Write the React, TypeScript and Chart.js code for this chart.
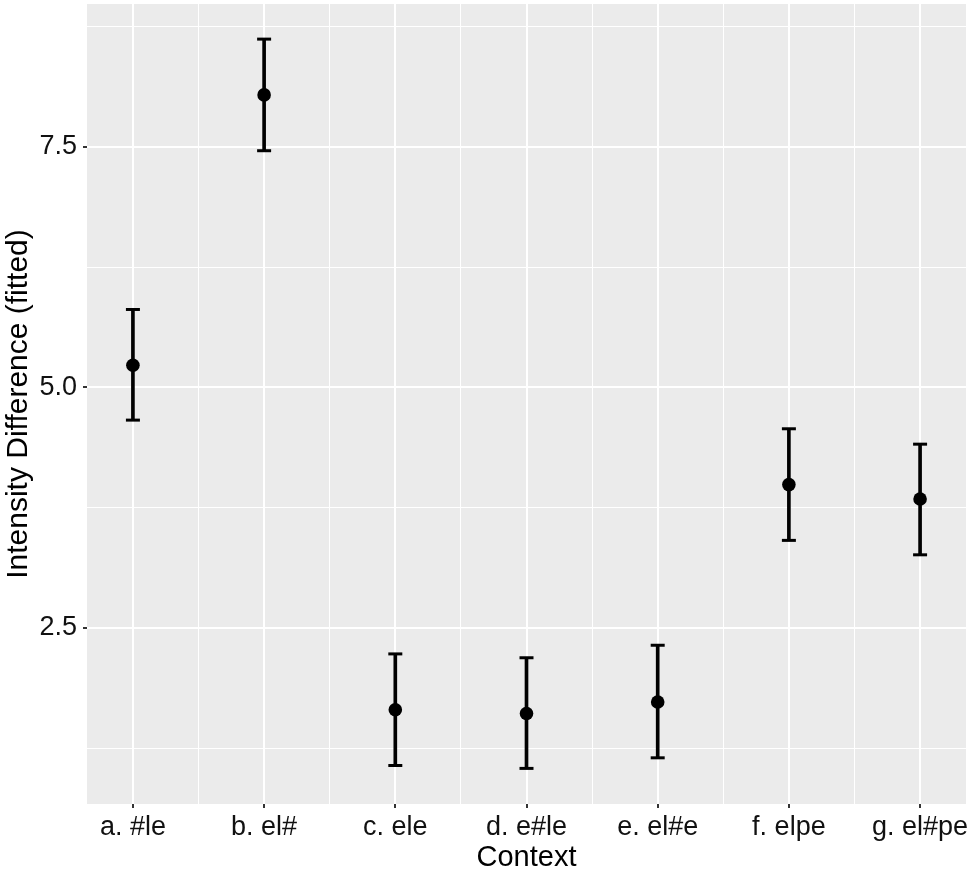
import React, { useEffect, useRef } from 'react';
import Chart from 'chart.js/auto';

// === Data ===
const CONTEXTS = ['a. #le', 'b. el#', 'c. ele', 'd. e#le', 'e. el#e', 'f. elpe', 'g. el#pe'];
const FITTED = [5.23, 8.04, 1.65, 1.61, 1.73, 3.99, 3.84];
const LOWER = [4.66, 7.46, 1.07, 1.04, 1.15, 3.41, 3.26];
const UPPER = [5.81, 8.62, 2.23, 2.19, 2.32, 4.57, 4.41];
const Y_TICKS = [2.5, 5.0, 7.5];
const Y_MINOR = [1.25, 3.75, 6.25, 8.75];

const FONT = "'Liberation Sans', Arial, Helvetica, sans-serif";
const PANEL_BG = '#EBEBEB';

// grey panel behind the plot, like ggplot's theme_gray
const panelBackground = {
  id: 'panelBackground',
  beforeDraw(chart: any) {
    const { ctx, chartArea } = chart;
    if (!chartArea) return;
    ctx.save();
    ctx.fillStyle = PANEL_BG;
    ctx.fillRect(chartArea.left, chartArea.top, chartArea.right - chartArea.left, chartArea.bottom - chartArea.top);
    ctx.restore();
  },
};

const isMajor = (v: number, majors: number[]) => majors.some(m => Math.abs(m - v) < 1e-9);

const App: React.FC = () => {
  const canvasRef = useRef<HTMLCanvasElement>(null);

  useEffect(() => {
    document.body.style.margin = '0';
    if (!canvasRef.current) return;

    const xMajor = CONTEXTS.map((_, i) => i);
    const xTicks = CONTEXTS.flatMap((_, i) => (i === 0 ? [i] : [i - 0.5, i]));
    const yTicks = [...Y_TICKS, ...Y_MINOR].sort((a, b) => a - b);

    const chart = new Chart(canvasRef.current, {
      type: 'scatter',
      data: {
        datasets: [
          {
            type: 'bar',
            label: 'interval',
            data: CONTEXTS.map((_, i) => ({ x: i, y: [LOWER[i], UPPER[i]] })) as any,
            backgroundColor: '#000',
            borderWidth: 0,
            barThickness: 3,
            order: 3,
          },
          {
            type: 'scatter',
            label: 'caps',
            data: CONTEXTS.flatMap((_, i) => [{ x: i, y: LOWER[i] }, { x: i, y: UPPER[i] }]),
            pointStyle: 'line',
            pointRadius: 7,
            borderColor: '#000',
            borderWidth: 3,
            order: 2,
          },
          {
            type: 'scatter',
            label: 'fitted',
            data: CONTEXTS.map((_, i) => ({ x: i, y: FITTED[i] })),
            pointRadius: 6.8,
            backgroundColor: '#000',
            borderWidth: 0,
            order: 1,
          },
        ],
      },
      options: {
        animation: false,
        responsive: true,
        maintainAspectRatio: false,
        layout: { autoPadding: false, padding: { top: 4, right: 8, left: 0, bottom: 0 } },
        plugins: {
          legend: { display: false },
          tooltip: { enabled: false },
        },
        scales: {
          x: {
            type: 'linear',
            min: -0.35,
            max: CONTEXTS.length - 1 + 0.35,
            offset: false,
            afterBuildTicks: (scale: any) => {
              scale.ticks = xTicks.map(value => ({ value }));
            },
            afterFit: (scale: any) => {
              scale.height = 68;
              scale.paddingLeft = 0;
              scale.paddingRight = 0;
            },
            border: { display: false },
            grid: {
              offset: false,
              color: '#FFFFFF',
              lineWidth: (ctx: any) => (isMajor(ctx.tick?.value, xMajor) ? 2 : 1),
              tickColor: (ctx: any) => (isMajor(ctx.tick?.value, xMajor) ? '#333333' : 'rgba(0,0,0,0)'),
              tickWidth: 2,
              tickLength: 4,
            },
            ticks: {
              autoSkip: false,
              maxRotation: 0,
              padding: 3,
              color: '#111',
              font: { family: FONT, size: 27 },
              callback: (v: any) => (Number.isInteger(v) ? CONTEXTS[v] : ''),
            },
            title: {
              display: true,
              text: 'Context',
              color: '#000',
              padding: { top: 0, bottom: -3 },
              font: { family: FONT, size: 29 },
            },
          },
          y: {
            type: 'linear',
            min: 0.67,
            max: 8.985,
            afterBuildTicks: (scale: any) => {
              scale.ticks = yTicks.map(value => ({ value }));
            },
            afterFit: (scale: any) => {
              scale.width = 87;
              scale.paddingTop = 0;
              scale.paddingBottom = 0;
            },
            border: { display: false },
            grid: {
              color: '#FFFFFF',
              lineWidth: (ctx: any) => (isMajor(ctx.tick?.value, Y_TICKS) ? 2 : 1),
              tickColor: (ctx: any) => (isMajor(ctx.tick?.value, Y_TICKS) ? '#333333' : 'rgba(0,0,0,0)'),
              tickWidth: 2,
              tickLength: 4,
            },
            ticks: {
              autoSkip: false,
              padding: 6,
              color: '#111',
              font: { family: FONT, size: 27 },
              callback: (v: any) => (isMajor(v, Y_TICKS) ? Number(v).toFixed(1) : ''),
            },
            title: {
              display: true,
              text: 'Intensity Difference (fitted)',
              color: '#000',
              padding: { top: 1, bottom: 0 },
              font: { family: FONT, size: 30 },
            },
          },
        },
      },
      plugins: [panelBackground],
    });

    return () => {
      chart.destroy();
    };
  }, []);

  return (
    <div style={{ width: 974, height: 872, position: 'relative', background: '#fff' }}>
      <canvas ref={canvasRef} />
    </div>
  );
};

export default App;
